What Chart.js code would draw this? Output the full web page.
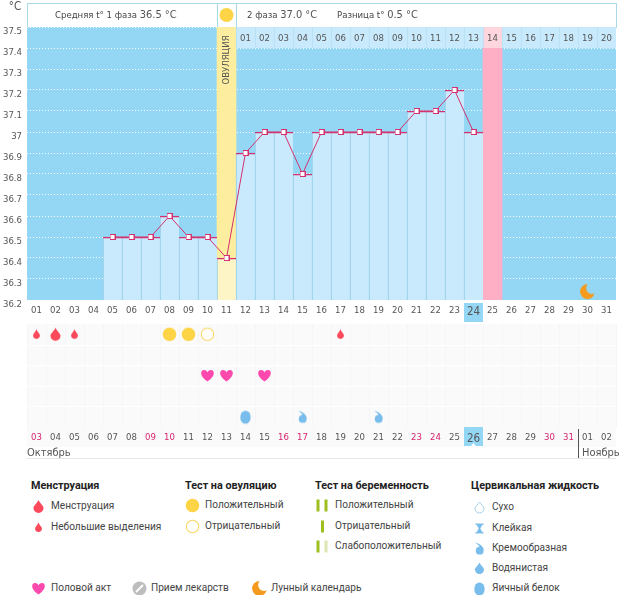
<!DOCTYPE html>
<html><head><meta charset="utf-8">
<script src="https://cdn.jsdelivr.net/npm/chart.js@4"></script>
<style>
html,body{margin:0;padding:0;background:#fff;width:626px;height:595px;overflow:hidden;font-family:Roboto,"Open Sans",sans-serif;color:#444}
canvas{position:absolute}
.t{position:absolute;white-space:nowrap;font-size:10.1px;line-height:14px;color:#444}
.h{font-weight:700;color:#222;font-size:10.8px}
#head{position:absolute;left:27px;top:3px;width:588px;height:23px;border:1px solid #a9d8e6;background:#fff;box-sizing:content-box}
</style></head><body>
<div id="head"></div>
<canvas id="c1" width="626" height="322" style="left:0;top:0"></canvas>
<canvas id="c2" width="626" height="142" style="left:0;top:322px"></canvas>
<script>
const topDays=['01','02','03','04','05','06','07','08','09','10','11','12','13','14','15','16','17','18','19','20','21','22','23','24','25','26','27','28','29','30','31'];
const bottomDays=['03','04','05','06','07','08','09','10','11','12','13','14','15','16','17','18','19','20','21','22','23','24','25','26','27','28','29','30','31','01','02'];
const weekendDays=['03','09','10','16','17','23','24','30','31'];
const cycleDays=[null,null,null,null,null,null,null,null,null,null,null,'01','02','03','04','05','06','07','08','09','10','11','12','13','14','15','16','17','18','19','20'];
const temperature=[null,null,null,null,36.5,36.5,36.5,36.6,36.5,36.5,36.4,36.9,37,37,36.8,37,37,37,37,37,37.1,37.1,37.2,37,null,null,null,null,null,null,null];
const ovulationDay='11', peakDay='25', todayTop='24', todayBottom='26', moonDay='30';
const moonLevel=36.24;
const yMin=36.2,yMax=37.5,yStep=0.1;
const smallDrops=['03','05','19'], bigDrops=['04'];
const positiveTests=['10','11'], negativeTests=['12'];
const intercourse=['12','13','15'];
const creamy=['17','21'], eggWhite=['14'];
const headerTexts=[['Средняя t° 1 фаза ','36.5 °C',55],['2 фаза ','37.0 °C',247],['Разница t° ','0.5 °C',337]];

const FONT='"DejaVu Sans Condensed","DejaVu Sans",sans-serif';
const SKY='#93d7f5',PALE='#c9eafc',DIV='#8fcbe6',LINE='#d2326f';

function icon(kind,w,h){
  const c=document.createElement('canvas');c.width=w;c.height=h;
  const g=c.getContext('2d');const cx=w/2,cy=h/2;
  const drop=(col,rw,top,bot)=>{g.fillStyle=col;g.beginPath();g.moveTo(cx,top);
    g.bezierCurveTo(cx+rw*.35,top+(bot-top)*.3,cx+rw,bot-rw*1.5,cx+rw,bot-rw);
    g.arc(cx,bot-rw,rw,0,Math.PI);g.bezierCurveTo(cx-rw,bot-rw*1.5,cx-rw*.35,top+(bot-top)*.3,cx,top);g.fill();};
  if(kind==='big')drop('#f9495a',5,cy-6.5,cy+6.5);
  if(kind==='small')drop('#f9495a',3.4,cy-5,cy+4.5);
  if(kind==='pos'){g.fillStyle='#fdd445';g.beginPath();g.arc(cx,cy,6.8,0,7);g.fill();}
  if(kind==='neg'){g.strokeStyle='#fbd66a';g.lineWidth=1.1;g.fillStyle='#fff';g.beginPath();g.arc(cx,cy,6.2,0,7);g.fill();g.stroke();}
  if(kind==='heart'){g.fillStyle='#fb49ad';g.beginPath();g.moveTo(cx,cy+6);
    g.bezierCurveTo(cx-8,cy+1,cx-7.5,cy-5.5,cx-3.5,cy-5.5);g.bezierCurveTo(cx-1.5,cy-5.5,cx-.5,cy-4.2,cx,cy-3);
    g.bezierCurveTo(cx+.5,cy-4.2,cx+1.5,cy-5.5,cx+3.5,cy-5.5);g.bezierCurveTo(cx+7.5,cy-5.5,cx+8,cy+1,cx,cy+6);g.fill();}
  if(kind==='egg'){g.fillStyle='#79bdec';g.beginPath();g.ellipse(cx,cy+.5,5.2,6.6,0,0,7);g.fill();}
  if(kind==='cream'){g.fillStyle='#79bdec';g.beginPath();g.arc(cx+.2,cy+2.2,3.9,0,7);g.fill();
    g.beginPath();g.moveTo(cx-4.5,cy-6);g.quadraticCurveTo(cx+4,cy-4,cx+4.1,cy+2);g.lineTo(cx+.5,cy-1);g.quadraticCurveTo(cx-1,cy-4,cx-4.5,cy-6);g.fill();}
  if(kind==='water')drop('#79bdec',4.5,cy-6,cy+5.5);
  if(kind==='dry'){g.strokeStyle='#a6cfe8';g.lineWidth=1;g.beginPath();g.moveTo(cx,cy-5.5);g.bezierCurveTo(cx+1.5,cy-3,cx+4.5,cy-1,cx+4.5,cy+1);g.arc(cx,cy+1,4.5,0,Math.PI);g.bezierCurveTo(cx-4.5,cy-1,cx-1.5,cy-3,cx,cy-5.5);g.stroke();}
  if(kind==='sticky'){g.fillStyle='#79bdec';g.fillRect(cx-4,cy-5,8,1.4);g.fillRect(cx-4,cy+3.6,8,1.4);g.beginPath();g.moveTo(cx-3,cy-4);g.lineTo(cx+3,cy-4);g.lineTo(cx+.8,cy);g.lineTo(cx+3,cy+4);g.lineTo(cx-3,cy+4);g.lineTo(cx-.8,cy);g.fill();}
  if(kind==='pill'){g.fillStyle='#bdbdbd';g.beginPath();g.arc(cx,cy,7,0,7);g.fill();g.strokeStyle='#fff';g.lineWidth=1.8;g.beginPath();g.moveTo(cx-3.5,cy+3.5);g.lineTo(cx+3.5,cy-3.5);g.stroke();}
  if(kind==='moon'){g.fillStyle='#f49a1e';g.beginPath();g.arc(cx,cy,7.4,0,7);g.fill();g.globalCompositeOperation='destination-out';g.beginPath();g.arc(cx+4.6,cy-3.6,6,0,7);g.fill();g.globalCompositeOperation='source-over';}
  if(kind==='preg2'||kind==='preg1'||kind==='preg3'){g.fillStyle='#9dbf1f';
    if(kind==='preg1'){g.fillRect(cx-1.5,cy-6,3,12);}
    else{g.fillRect(cx-6,cy-6,3,12);g.fillStyle=kind==='preg2'?'#9dbf1f':'#dbe5b4';g.fillRect(cx+2,cy-6,3,12);}}
  return c;
}

const idx=d=>topDays.indexOf(d);
const marker=(()=>{const c=document.createElement('canvas');c.width=c.height=6;const g=c.getContext('2d');g.fillStyle='#fff';g.strokeStyle=LINE;g.lineWidth=1;g.fillRect(.5,.5,5,5);g.strokeRect(.5,.5,5,5);return c;})();

const ovulationFull=topDays.map(d=>d===ovulationDay?yMax:null);
const peakFull=topDays.map(d=>d===peakDay?yMax:null);
const stripBars=cycleDays.map(v=>v?[37.4,yMax]:null);

const chart1Plugin={id:'p1',
  beforeDraw(ch){const {ctx,chartArea:a,scales:{x}}=ch;ctx.save();ctx.fillStyle=SKY;ctx.fillRect(a.left,a.top,a.right-a.left,a.bottom-a.top);
    const p=x.getPixelForValue(idx(todayTop));ctx.fillRect(Math.round(p-9.5),303,19,20);ctx.restore();},
  afterDraw(ch){const {ctx,scales:{x}}=ch;ctx.save();
    ctx.textAlign='center';ctx.textBaseline='middle';ctx.fillStyle='#555';ctx.font='9.5px '+FONT;
    cycleDays.forEach((v,i)=>{if(v)ctx.fillText(v,x.getPixelForTick(i),38.5);});
    ctx.translate(x.getPixelForValue(idx(ovulationDay)),60);ctx.rotate(-Math.PI/2);ctx.fillText('ОВУЛЯЦИЯ',0,0);
    ctx.restore();
    ctx.save();ctx.fillStyle='#fdd445';ctx.beginPath();ctx.arc(x.getPixelForValue(idx(ovulationDay)),15,7,0,7);ctx.fill();
    ctx.strokeStyle='#a9d8e6';ctx.lineWidth=1;const xo=x.getPixelForValue(idx(ovulationDay));
    [xo-9.5,xo+9.5].forEach(p=>{ctx.beginPath();ctx.moveTo(Math.round(p)+.5,3);ctx.lineTo(Math.round(p)+.5,27);ctx.stroke();});
    ctx.fillStyle='#555';ctx.font='11.5px '+FONT;ctx.textAlign='center';ctx.textBaseline='middle';ctx.fillText('°C',15,7);
    ctx.textAlign='left';
    headerTexts.forEach(([a,b,l])=>{ctx.font='9.5px '+FONT;ctx.fillStyle='#444';ctx.fillText(a,l,15.5);const w=ctx.measureText(a).width;ctx.font='11px '+FONT;ctx.fillStyle='#555';ctx.fillText(b,l+w,15);});
    ctx.restore();
  }
};

const dim=(w,h)=>(s)=>{if(w!=null)s.width=w;if(h!=null)s.height=h;};
new Chart(document.getElementById('c1'),{
  data:{labels:topDays,datasets:[
    {type:'line',label:'Температура',data:temperature,borderColor:LINE,borderWidth:1,pointStyle:marker,pointRadius:3,tension:0,order:1,spanGaps:false},
    {type:'line',label:'Лунный календарь',data:topDays.map(d=>d===moonDay?moonLevel:null),showLine:false,pointStyle:icon('moon',17,17),pointRadius:8,order:0},
    {type:'bar',label:'Верх',data:temperature,grouped:false,backgroundColor:'rgba(0,0,0,0)',borderColor:LINE,borderWidth:{top:1,left:0,right:0,bottom:0},borderSkipped:false,barPercentage:1,categoryPercentage:1,order:2},
    {type:'bar',label:'Столбцы',data:temperature,grouped:false,backgroundColor:c=>topDays[c.dataIndex]===ovulationDay?'#fdf5c5':PALE,borderColor:DIV,borderWidth:{top:0,left:1,right:0,bottom:0},borderSkipped:false,barPercentage:1,categoryPercentage:1,order:3},
    {type:'bar',label:'Дни цикла',data:stripBars,grouped:false,backgroundColor:c=>topDays[c.dataIndex]===peakDay?'#ffd5de':PALE,borderColor:'#b2dff2',borderWidth:{top:0,left:1,right:0,bottom:0},borderSkipped:false,barPercentage:1,categoryPercentage:1,order:3},
    {type:'bar',label:'Овуляция',data:ovulationFull,grouped:false,backgroundColor:'#fcee9e',barPercentage:1,categoryPercentage:1,order:5},
    {type:'bar',label:'Пик',data:peakFull,grouped:false,backgroundColor:'#feafc5',barPercentage:1,categoryPercentage:1,order:5}
  ]},
  options:{responsive:false,animation:false,devicePixelRatio:1,
    layout:{autoPadding:false,padding:{top:27,right:10,left:0,bottom:0}},
    plugins:{legend:{display:false},tooltip:{enabled:false}},
    scales:{
      x:{type:'category',offset:true,afterFit:dim(null,22),grid:{display:false,drawTicks:false},border:{display:false},
         ticks:{autoSkip:false,maxRotation:0,padding:5,color:'#555',font:c=>({family:FONT,size:topDays[c.index]===todayTop?11.5:9.5})}},
      y:{type:'linear',min:yMin,max:yMax,afterFit:dim(27,null),border:{display:false,dash:[1,2]},
         grid:{color:'rgba(255,255,255,.95)',drawTicks:false,lineWidth:1},
         ticks:{stepSize:yStep,padding:5,labelOffset:4.5,color:'#555',font:{family:FONT,size:9.5},callback:v=>String(+(+v).toFixed(1))}}
    }
  },
  plugins:[chart1Plugin]
});

const pts=(days,row)=>days.map(d=>({x:d,y:row}));
const scatter=(label,days,row,kind)=>({type:'line',label,data:pts(days,row),showLine:false,pointStyle:icon(kind,17,17),pointRadius:8});
const chart2Plugin={id:'p2',
  beforeDraw(ch){const {ctx,chartArea:a,scales:{x,y}}=ch;ctx.save();
    ctx.fillStyle='#fafafb';ctx.fillRect(a.left,a.top,a.right-a.left,a.bottom-a.top+20);
    ctx.strokeStyle='#f5f5f7';ctx.lineWidth=1;
    for(let i=0;i<=31;i++){const p=Math.round(a.left+i*19)+.5;ctx.beginPath();ctx.moveTo(p,a.top);ctx.lineTo(p,a.bottom);ctx.stroke();}
    ctx.strokeStyle='#fff';for(let r=1;r<5;r++){const p=Math.round(y.getPixelForValue(r))+.5;ctx.beginPath();ctx.moveTo(a.left,p);ctx.lineTo(a.right,p);ctx.stroke();}
    const p=x.getPixelForValue(bottomDays.indexOf(todayBottom));ctx.fillStyle=SKY;ctx.fillRect(Math.round(p-9.5),427-322,19,19);
    ctx.fillStyle='#fff';ctx.beginPath();ctx.moveTo(p-2.5,446-322);ctx.lineTo(p,443-322);ctx.lineTo(p+2.5,446-322);ctx.fill();
    ctx.restore();},
  afterDraw(ch){const {ctx,scales:{x}}=ch;ctx.save();
    ctx.fillStyle='#555';ctx.font='11px '+FONT;ctx.textBaseline='middle';ctx.textAlign='left';
    ctx.fillText('Октябрь',27,453-322);ctx.fillText('Ноябрь',582,453-322);
    ctx.strokeStyle='#e6e6e6';ctx.lineWidth=1;ctx.beginPath();ctx.moveTo(27,458.5-322);ctx.lineTo(616,458.5-322);ctx.stroke();
    const p=Math.round(x.getPixelForValue(bottomDays.indexOf('31'))+9.5)+.5;
    ctx.strokeStyle='#555';ctx.beginPath();ctx.moveTo(p,429-322);ctx.lineTo(p,458-322);ctx.stroke();
    ctx.restore();}
};
new Chart(document.getElementById('c2'),{
  data:{labels:bottomDays,datasets:[
    scatter('Небольшие выделения',smallDrops,0.5,'small'),
    scatter('Менструация',bigDrops,0.5,'big'),
    scatter('Положительный',positiveTests,0.5,'pos'),
    scatter('Отрицательный',negativeTests,0.5,'neg'),
    scatter('Половой акт',intercourse,2.5,'heart'),
    scatter('Кремообразная',creamy,4.5,'cream'),
    scatter('Яичный белок',eggWhite,4.5,'egg')
  ]},
  options:{responsive:false,animation:false,devicePixelRatio:1,
    layout:{autoPadding:false,padding:{top:2,right:10,left:0,bottom:0}},
    plugins:{legend:{display:false},tooltip:{enabled:false}},
    scales:{
      x:{type:'category',offset:true,afterFit:dim(null,37),grid:{display:false,drawTicks:false},border:{display:false},
         ticks:{autoSkip:false,maxRotation:0,padding:5,
           color:c=>weekendDays.includes(bottomDays[c.index])?'#d6246e':'#555',
           font:c=>({family:FONT,size:bottomDays[c.index]===todayBottom?11.5:9.5})}},
      y:{type:'linear',min:0,max:5,reverse:true,afterFit:dim(27,null),border:{display:false},grid:{display:false},ticks:{display:false}}
    }
  },
  plugins:[chart2Plugin]
});

const legendHeads=[['Менструация',31,486],['Тест на овуляцию',185,486],['Тест на беременность',315,486],['Цервикальная жидкость',471,486]];
const legendRows=[
 ['big','Менструация',38,51,506],['small','Небольшие выделения',38,51,527],
 ['pos','Положительный',192,205,505],['neg','Отрицательный',192,205,526],
 ['preg2','Положительный',322,335,505],['preg1','Отрицательный',322,335,526],['preg3','Слабоположительный',322,335,546],
 ['dry','Сухо',479,492,507],['sticky','Клейкая',479,492,528],['cream','Кремообразная',479,492,548],['water','Водянистая',479,492,568],['egg','Яичный белок',479,492,588],
 ['heart','Половой акт',38,51,588],['pill','Прием лекарств',139,151,588],['moon','Лунный календарь',259,271,588]
];
legendHeads.forEach(([s,l,cy])=>{const e=document.createElement('div');e.className='t h';e.textContent=s;e.style.left=l+'px';e.style.top=(cy-7)+'px';document.body.appendChild(e);});
legendRows.forEach(([k,s,ix,tx,cy])=>{const c=icon(k,17,17);c.style.left=(ix-8.5)+'px';c.style.top=(cy-8.5)+'px';document.body.appendChild(c);
  const e=document.createElement('div');e.className='t';e.textContent=s;e.style.left=tx+'px';e.style.top=(cy-7)+'px';document.body.appendChild(e);});
</script>
</body></html>
